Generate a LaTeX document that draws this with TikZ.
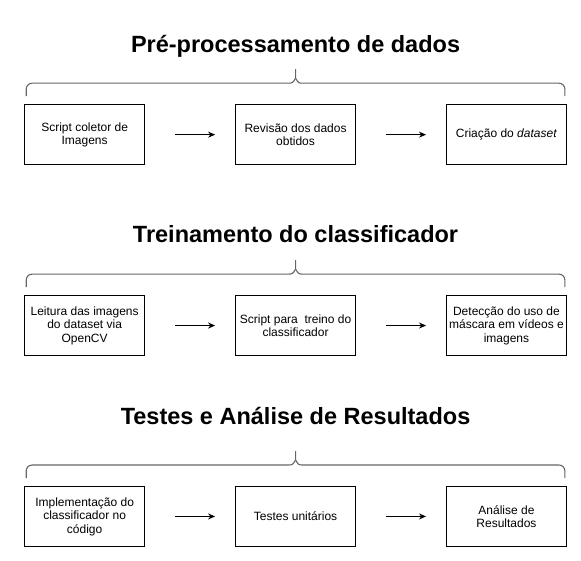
\documentclass[tikz,border=0pt]{standalone}
\usepackage{fontspec}
\setmainfont{Liberation Sans}
\usetikzlibrary{arrows.meta}

\tikzset{
  caixa/.style={draw, line width=0.9pt, minimum width=120pt, minimum height=60pt, inner sep=2pt, align=center, font=\fontsize{12}{13.5}\selectfont},
  seta/.style={-{Stealth[length=7pt,width=6pt]}, line width=0.9pt},
  chave/.style={draw=black!60, line width=1.1pt},
  titulo/.style={font=\fontsize{23.5}{27}\selectfont\bfseries, anchor=base}
}

\begin{document}
\begin{tikzpicture}
			\useasboundingbox (0,0) rectangle (581pt,-561pt);
			\matrix (etapas) [anchor=north west, inner sep=0pt, nodes={caixa}, column sep=90pt, row sep=130pt] at (24pt,-104pt) {
			\node (coleta) {Script coletor de\\Imagens}; \pgfmatrixnextcell
			\node (revisao) {Revisão dos dados\\obtidos}; \pgfmatrixnextcell
			\node (criacao) {Criação do \textit{dataset}}; \\
			\node (leitura) {Leitura das imagens\\do dataset via\\OpenCV}; \pgfmatrixnextcell
			\node (treino) {Script para\ \ treino do\\classificador}; \pgfmatrixnextcell
			\node (deteccao) {Detecção do uso de\\máscara em vídeos e\\imagens}; \\
			\node (implem) {Implementação do\\classificador no\\código}; \pgfmatrixnextcell
			\node (testes) {Testes unitários}; \pgfmatrixnextcell
			\node (analise) {Análise de\\Resultados}; \\
			};
			\foreach \a/\b in {coleta/revisao, revisao/criacao, leitura/treino, treino/deteccao, implem/testes, testes/analise}
				\draw [seta] ([xshift=30pt]\a.east) -- ([xshift=-20pt]\b.west);
			\foreach \ini/\meio/\fim/\nome/\texto/\alt in {coleta/revisao/criacao/tpre/{Pré-processamento de dados}/51.3,
					leitura/treino/deteccao/ttre/{Treinamento do classificador}/52.3,
					implem/testes/analise/ttes/{Testes e Análise de Resultados}/61.3} {
				\node [titulo] (\nome) at ([yshift=\alt pt]\meio.north) {\texto};
				\draw [chave] ([shift={(2pt,8pt)}]\ini.north west) -- ([shift={(2pt,15pt)}]\ini.north west) arc[start angle=180, end angle=90, radius=6pt] -- ([shift={(-8pt,21pt)}]\meio.north) .. controls ([shift={(-3pt,21pt)}]\meio.north) .. ([shift={(0pt,26pt)}]\meio.north) -- ([shift={(0pt,35pt)}]\meio.north);
				\draw [chave] ([shift={(-2pt,8pt)}]\fim.north east) -- ([shift={(-2pt,15pt)}]\fim.north east) arc[start angle=0, end angle=90, radius=6pt] -- ([shift={(8pt,21pt)}]\meio.north) .. controls ([shift={(3pt,21pt)}]\meio.north) .. ([shift={(0pt,26pt)}]\meio.north);
			}
		\end{tikzpicture}
\end{document}
